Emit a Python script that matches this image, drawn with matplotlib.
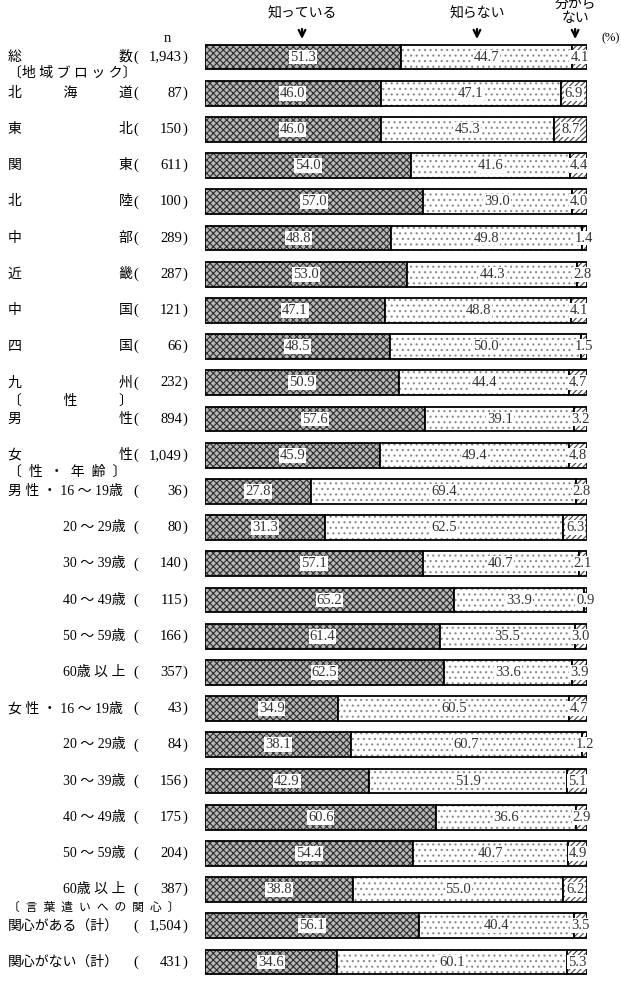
import matplotlib
matplotlib.use("Agg")
import matplotlib.pyplot as plt
import matplotlib.transforms as mtransforms
import numpy as np

FONT = ["Liberation Serif", "Noto Sans CJK JP"]
plt.rcParams["font.family"] = FONT
plt.rcParams["hatch.linewidth"] = 0.8

# Row labels (name part), sample sizes and the three answer shares (%)
names = ["総　　　　　　　数", "北　　　海　　　道", "東　　　　　　　北", "関　　　　　　　東",
         "北　　　　　　　陸", "中　　　　　　　部", "近　　　　　　　畿", "中　　　　　　　国",
         "四　　　　　　　国", "九　　　　　　　州", "男　　　　　　　性", "女　　　　　　　性",
         "男 性 ・ 16 〜 19歳", "20 〜 29歳", "30 〜 39歳", "40 〜 49歳", "50 〜 59歳", "60歳 以 上",
         "女 性 ・ 16 〜 19歳", "20 〜 29歳", "30 〜 39歳", "40 〜 49歳", "50 〜 59歳", "60歳 以 上",
         "関心がある（計）", "関心がない（計）"]
indented = [False] * 13 + [True] * 5 + [False] + [True] * 5 + [False, False]
n_values = ["1,943", "87", "150", "611", "100", "289", "287", "121", "66", "232", "894", "1,049",
            "36", "80", "140", "115", "166", "357", "43", "84", "156", "175", "204", "387",
            "1,504", "431"]
know = [51.3, 46.0, 46.0, 54.0, 57.0, 48.8, 53.0, 47.1, 48.5, 50.9, 57.6, 45.9, 27.8,
        31.3, 57.1, 65.2, 61.4, 62.5, 34.9, 38.1, 42.9, 60.6, 54.4, 38.8, 56.1, 34.6]
dont_know = [44.7, 47.1, 45.3, 41.6, 39.0, 49.8, 44.3, 48.8, 50.0, 44.4, 39.1, 49.4, 69.4,
             62.5, 40.7, 33.9, 35.5, 33.6, 60.5, 60.7, 51.9, 36.6, 40.7, 55.0, 40.4, 60.1]
unsure = [4.1, 6.9, 8.7, 4.4, 4.0, 1.4, 2.8, 4.1, 1.5, 4.7, 3.2, 4.8, 2.8, 6.3, 2.1, 0.9,
          3.0, 3.9, 4.7, 1.2, 5.1, 2.9, 4.9, 6.2, 3.5, 5.3]
series_names = ["知っている", "知らない", "分から\nない"]
sections = [("〔地 域 ブ ロ ッ ク〕", 0.45, 10), ("〔　　　性　　　〕", 9.5, 10),
            ("〔  性  ・  年  齢  〕", 11.45, 10),
            ("〔  言  葉  遣  い  へ  の  関  心  〕", 23.5, 8.5)]

W, H = 621, 986
fig = plt.figure(figsize=(W / 100, H / 100), dpi=100)

# bar area spans x = 205..587 px; rows: first at 57 px, last at 962 px
x0, x1 = 205, 587
row_px = (962 - 57) / (len(names) - 1)
ax = fig.add_axes([x0 / W, 0, (x1 - x0) / W, 1])
ax.set_xlim(0, 100)
ax.set_ylim(len(names) - 1 + (H - 962) / row_px, -57 / row_px)
ax.axis("off")

y = np.arange(len(names))
know = np.array(know)
dont_know = np.array(dont_know)
unsure = np.array(unsure)
h = 0.68

styles = [dict(color="#b8b8b8", hatch="xxxxx", edge="#2e2e2e"),
          dict(color="white", hatch="...", edge="#8a8a8a"),
          dict(color="white", hatch="//////", edge="#444444")]
lefts = [np.zeros(len(y)), know, know + dont_know]
widths = [know, dont_know, unsure]
for st, left, width in zip(styles, lefts, widths):
    ax.barh(y, width, left=left, height=h, color=st["color"], hatch=st["hatch"],
            edgecolor=st["edge"], linewidth=0)
    ax.barh(y, width, left=left, height=h, fill=False, edgecolor="black", linewidth=1.3)
    for yi, l, w in zip(y, left, width):
        ax.text(l + w / 2, yi, "{:.1f}".format(w), ha="center", va="center", fontsize=10.5,
                family=FONT, color="#333333",
                bbox=dict(boxstyle="square,pad=0.06", fc="white", ec="none"))

# headers with arrows
header_x = [25.4, 71.2, 96.9]
for name, hx in zip(series_names, header_x):
    ax.text(hx, -1.2 if "\n" not in name else -1.25, name, ha="center", va="center",
            fontsize=10, family=FONT, linespacing=1.1)
    ax.annotate("", xy=(hx, -0.42), xytext=(hx, -0.85),
                arrowprops=dict(arrowstyle="->", lw=1.6, color="black", mutation_scale=12))
fig.text(620 / W, 1 - 38 / H, "(%)", fontsize=9, ha="right", va="center", family=FONT)

# left label column
tr = mtransforms.blended_transform_factory(fig.transFigure, ax.transData)
ax.text(167 / W, -0.5, "n", transform=tr, fontsize=10.5, ha="center", va="center", family=FONT)
for yi, name, ind, nv in zip(y, names, indented, n_values):
    lx = 63 if ind else 8
    ax.text(lx / W, yi, name, transform=tr, fontsize=10, ha="left", va="center", family=FONT)
    ax.text(133 / W, yi, "(", transform=tr, fontsize=10.5, ha="left", va="center", family=FONT)
    ax.text(182 / W, yi, nv, transform=tr, fontsize=10.5, ha="right", va="center", family=FONT)
    ax.text(183 / W, yi, ")", transform=tr, fontsize=10.5, ha="left", va="center", family=FONT)
for text, sy, fs in sections:
    ax.text(8 / W, sy, text, transform=tr, fontsize=fs, ha="left", va="center", family=FONT)

fig.savefig("out.png", dpi=100)
